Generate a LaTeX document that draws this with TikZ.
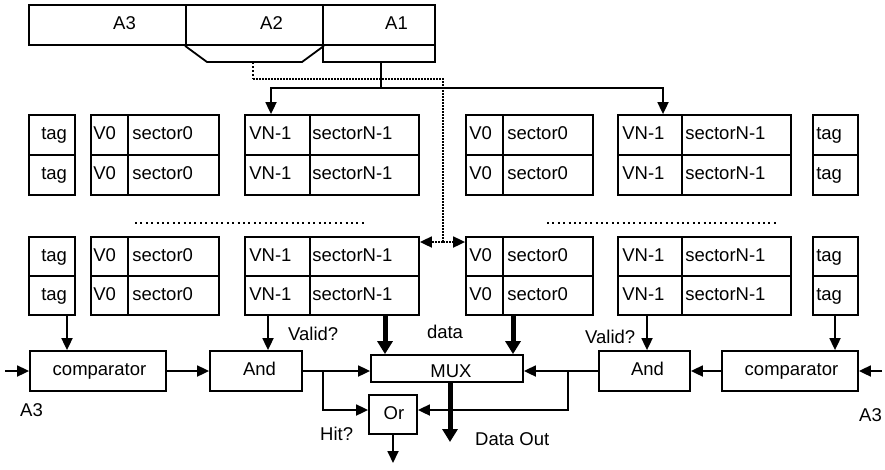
\documentclass[tikz,border=0pt]{standalone}
\usepackage{fontspec}
\setmainfont{Liberation Sans}
\usetikzlibrary{arrows.meta}

% one table cell: name, left x, top y, width, height, text offset, text
\newcommand\cellbox[7]{%
  \node[box, minimum width=#4pt, minimum height=#5pt] (#1) at ({#2+#4/2},{#3+#5/2}) {};
  \node[lbl] at ([xshift=#6pt]#1.west) {#7};}

\begin{document}
\begin{tikzpicture}[x=1pt,y=-1pt,
  box/.style={draw, line width=1.8pt, inner sep=0pt, fill=white},
  lbl/.style={inner sep=0pt, anchor=west, font=\fontsize{18.5}{22}\selectfont,
              text height=13.5pt, text depth=4.3pt},
  txt/.style={inner sep=0pt, font=\fontsize{18.5}{22}\selectfont,
              text height=13.5pt, text depth=4.3pt},
  wire/.style={line width=1.8pt},
  arr/.style={wire, -{Triangle[length=12pt,width=11pt]}},
  fat/.style={line width=5pt, -{Triangle[length=13pt,width=15pt]}},
  dots/.style={line width=1.8pt, dash pattern=on 1.6pt off 1.4pt},
  dotarr/.style={dots, -{Triangle[length=12pt,width=11pt]}},
  ellip/.style={line width=2pt, dash pattern=on 2pt off 3.4pt},
]
\useasboundingbox (0,0) rectangle (885,469);

% ---- address register ----
\node[box, minimum width=157pt, minimum height=40pt] (a3) at (107.5,25) {};
\node[box, minimum width=137pt, minimum height=40pt] (a2) at (254.5,25) {};
\node[box, minimum width=112pt, minimum height=40pt] (a1) at (379,25) {};
\node[box, minimum width=112pt, minimum height=17pt] (a1low) at (379,53.5) {};
\node[txt, anchor=base west] at (113,29) {A3};
\node[txt, anchor=base west] at (260,29) {A2};
\node[txt, anchor=base west] at (385,29) {A1};
\coordinate (tz1) at (207,62);
\coordinate (tz2) at (302,62);
\draw[wire] (a2.south west) -- (tz1) -- (tz2) -- (a2.south east);

% ---- tag / valid / sector arrays ----
\foreach \r/\ya/\h in {A1/115/40, A2/155/40, B1/237/39, B2/276/39} {
  \cellbox{tl\r}{29}{\ya}{46}{\h}{13}{tag}
  \cellbox{v0l\r}{91}{\ya}{37}{\h}{3}{V0}
  \cellbox{s0l\r}{128}{\ya}{91}{\h}{5}{sector0}
  \cellbox{vnl\r}{245}{\ya}{65}{\h}{5}{VN-1}
  \cellbox{snl\r}{310}{\ya}{109}{\h}{3}{sectorN-1}
  \cellbox{v0r\r}{466}{\ya}{37}{\h}{4}{V0}
  \cellbox{s0r\r}{503}{\ya}{90}{\h}{5}{sector0}
  \cellbox{vnr\r}{618}{\ya}{64}{\h}{5}{VN-1}
  \cellbox{snr\r}{682}{\ya}{109}{\h}{4}{sectorN-1}
  \cellbox{tr\r}{813}{\ya}{45}{\h}{4}{tag}
}
\draw[ellip] (135,223) -- (365,223);
\draw[ellip] (547,223) -- (777,223);

% ---- logic blocks ----
\node[box, minimum width=136pt, minimum height=40pt] (cmpL) at (98,371) {};
\node[txt] at (99.5,371) {comparator};
\node[box, minimum width=92pt, minimum height=40pt] (andL) at (256,371) {};
\node[txt] at (259.5,371) {And};
\node[box, minimum width=152pt, minimum height=27pt] (mux) at (447,368.5) {};
\node[txt, anchor=base] at (451,377) {MUX};
\node[box, minimum width=48pt, minimum height=39pt] (orb) at (393,414.5) {};
\node[txt] at (394,414.5) {Or};
\node[box, minimum width=91pt, minimum height=40pt] (andR) at (644.5,371) {};
\node[txt] at (647.5,371) {And};
\node[box, minimum width=136pt, minimum height=40pt] (cmpR) at (790,371) {};
\node[txt] at (791.5,371) {comparator};

% ---- guide coordinates for connector positions ----
\coordinate (xTagL) at (67,0);
\coordinate (xValL) at (268,0);
\coordinate (xDatL) at (385,0);
\coordinate (xDatR) at (513,0);
\coordinate (xValR) at (647,0);
\coordinate (xTagR) at (835,0);
\coordinate (xBrL) at (323,0);
\coordinate (xBrR) at (568,0);
\coordinate (xOut) at (450,0);
\coordinate (xBus) at (381,0);
\coordinate (xDot) at (443,0);
\coordinate (xTz) at (253,0);
\coordinate (xVNL) at (271,0);
\coordinate (xVNR) at (663,0);
\coordinate (yDot) at (0,79);
\coordinate (yBus) at (0,88);
\coordinate (yArr) at (0,242);
\coordinate (yOr) at (0,410);
\coordinate (hitout) at (393,463);
\coordinate (dout) at (450,442);
\coordinate (inL) at (5,371);
\coordinate (inR) at (882,371);

% ---- index bus from A1 ----
\draw[wire] (a1low.south -| xBus) -- (xBus |- yBus);
\draw[arr] (xBus |- yBus) -| (vnlA1.north -| xVNL);
\draw[arr] (xBus |- yBus) -| (vnrA1.north -| xVNR);

% ---- A2 select (dotted) ----
\draw[dots, line width=2.6pt, dash pattern=on 2.4pt off 1.6pt] (tz1 -| xTz) -- (xTz |- yDot);
\draw[dots] (xTz |- yDot) -- (xDot |- yDot) -- (xDot |- yArr);
\draw[dotarr] (xDot |- yArr) -- (snlB1.east |- yArr);
\draw[dotarr] (xDot |- yArr) -- (v0rB1.west |- yArr);

% ---- array outputs ----
\draw[arr] (tlB2.south -| xTagL) -- (cmpL.north -| xTagL);
\draw[arr] (vnlB2.south -| xValL) -- (andL.north -| xValL);
\draw[fat] (snlB2.south -| xDatL) -- (mux.north -| xDatL);
\draw[fat] (s0rB2.south -| xDatR) -- (mux.north -| xDatR);
\draw[arr] (vnrB2.south -| xValR) -- (andR.north -| xValR);
\draw[arr] (trB2.south -| xTagR) -- (cmpR.north -| xTagR);

% ---- logic wiring ----
\draw[arr] (inL) -- (cmpL.west);
\draw[arr] (inR) -- (cmpR.east);
\draw[arr] (cmpL.east) -- (andL.west);
\draw[arr] (cmpR.west) -- (andR.east);
\draw[arr] (andL.east) -- (andL.east -| mux.west);
\draw[arr] (andR.west) -- (andR.west -| mux.east);
\draw[arr] (andL.east -| xBrL) |- (orb.west |- yOr);
\draw[arr] (andR.west -| xBrR) |- (orb.east |- yOr);
\draw[arr] (orb.south) -- (hitout);
\draw[fat] (mux.south -| xOut) -- (dout);

% ---- labels ----
\node[txt, anchor=base west] at (288,340) {Valid?};
\node[txt, anchor=base] at (445,338) {data};
\node[txt, anchor=base west] at (585,343) {Valid?};
\node[txt, anchor=base west] at (320,440) {Hit?};
\node[txt, anchor=base west] at (475,445) {Data Out};
\node[txt, anchor=base west] at (20,416) {A3};
\node[txt, anchor=base west] at (859,421) {A3};
\end{tikzpicture}
\end{document}
